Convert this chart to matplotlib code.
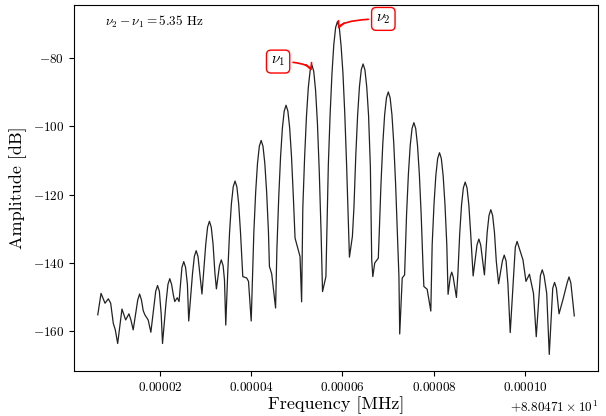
import matplotlib
matplotlib.use("Agg")
import matplotlib.pyplot as plt
import numpy as np

plt.rcParams['font.family'] = 'serif'
plt.rcParams['font.serif'] = ['cmr10', 'DejaVu Serif']
plt.rcParams['mathtext.fontset'] = 'cm'
plt.rcParams['axes.formatter.use_mathtext'] = True

f0_mhz = 88.0471
freq_offset_hz = [
    6.41, 7.13, 8.00, 8.72, 9.24, 9.81, 10.25, 10.77, 11.71, 12.52,
    13.24, 13.67, 14.17, 15.17, 15.57, 15.97, 16.37, 16.73, 17.45, 18.04,
    19.10, 19.50, 19.90, 20.30, 20.59, 21.38, 21.78, 22.18, 22.58, 22.98,
    23.27, 23.82, 24.21, 24.84, 25.24, 25.64, 26.04, 26.33, 27.16, 27.56,
    27.96, 28.36, 28.76, 29.23, 30.06, 30.46, 30.86, 31.26, 31.66, 32.06,
    32.39, 33.06, 33.46, 33.86, 34.16, 34.44, 34.87, 35.27, 35.67, 36.07,
    36.47, 36.87, 37.27, 37.67, 38.17, 39.02, 39.42, 40.01, 40.59, 40.99,
    41.39, 41.79, 42.19, 42.59, 42.99, 43.39, 43.79, 44.00, 44.50, 45.35,
    45.64, 46.04, 46.44, 46.84, 47.24, 47.64, 48.04, 48.44, 48.84, 49.24,
    49.61, 50.70, 51.05, 51.31, 51.71, 52.11, 52.51, 52.91, 53.31, 53.71,
    54.11, 54.51, 54.91, 55.31, 55.63, 56.37, 56.90, 57.30, 57.70, 58.10,
    58.50, 58.90, 59.30, 59.70, 60.10, 60.50, 60.90, 61.30, 61.52, 62.17,
    62.51, 62.91, 63.31, 63.71, 64.11, 64.51, 64.91, 65.31, 65.71, 66.11,
    66.40, 66.64, 67.06, 67.84, 68.03, 68.43, 68.83, 69.23, 69.63, 70.03,
    70.43, 70.83, 71.23, 71.63, 72.03, 72.36, 72.53, 73.08, 73.60, 74.03,
    74.43, 74.83, 75.23, 75.63, 76.03, 76.43, 76.83, 77.23, 77.63, 77.82,
    78.54, 79.34, 79.64, 80.04, 80.44, 80.84, 81.24, 81.64, 82.04, 82.44,
    82.84, 83.12, 83.62, 83.92, 84.22, 84.95, 85.27, 85.67, 86.07, 86.47,
    86.87, 87.27, 87.67, 88.07, 88.61, 89.46, 89.86, 90.26, 90.66, 91.08,
    91.68, 92.08, 92.48, 92.88, 93.28, 93.68, 94.18, 95.02, 95.42, 95.82,
    96.22, 96.73, 97.84, 98.24, 98.64, 99.52, 100.18, 100.94, 101.82, 102.43,
    103.34, 103.74, 104.14, 104.72, 105.28, 106.04, 106.44, 106.84, 107.42, 108.36,
    109.20, 109.60, 110.00, 110.76,
]
amplitude_db = [
    -155.2, -148.9, -151.8, -150.5, -151.8, -157.7, -159.6, -163.6, -153.5, -156.7,
    -154.9, -156.7, -159.6, -150.8, -149.1, -150.8, -154.0, -155.2, -156.7, -160.3,
    -148.3, -146.6, -148.3, -155.0, -163.6, -151.3, -146.3, -144.6, -146.3, -149.5,
    -151.3, -150.2, -151.3, -141.3, -139.6, -141.3, -146.3, -157.0, -143.1, -138.1,
    -136.4, -138.1, -143.1, -149.1, -134.5, -129.5, -127.8, -129.5, -134.5, -142.9,
    -147.6, -140.8, -139.1, -140.8, -145.0, -158.2, -142.9, -131.1, -122.7, -117.7,
    -116.0, -117.7, -122.7, -131.1, -144.0, -144.4, -145.4, -157.0, -131.0, -119.2,
    -110.8, -105.8, -104.1, -105.8, -110.8, -119.2, -131.0, -141.0, -143.2, -153.2,
    -135.8, -120.7, -108.9, -100.5, -95.5, -93.8, -95.5, -100.5, -108.9, -120.7,
    -132.7, -138.1, -151.4, -124.0, -108.9, -97.1, -88.7, -83.7, -82.0, -83.9,
    -89.5, -99.0, -113.0, -131.0, -148.4, -144.0, -111.3, -96.2, -84.4, -76.0,
    -71.0, -69.3, -71.0, -76.5, -84.4, -96.2, -111.3, -129.0, -138.3, -132.2,
    -123.7, -108.6, -96.8, -88.4, -83.4, -81.7, -83.4, -88.4, -96.8, -112.0,
    -139.1, -144.0, -140.0, -138.6, -131.9, -116.8, -105.0, -96.6, -91.6, -89.9,
    -91.6, -96.6, -105.0, -116.8, -131.9, -144.0, -160.8, -144.4, -143.5, -125.8,
    -114.0, -105.6, -100.6, -98.9, -100.6, -105.6, -114.0, -125.8, -140.9, -146.9,
    -147.7, -154.1, -134.6, -122.8, -114.4, -109.4, -107.7, -109.4, -114.4, -122.8,
    -134.6, -149.2, -144.0, -142.7, -144.0, -150.1, -143.2, -131.4, -123.0, -118.0,
    -116.3, -118.0, -123.0, -131.4, -143.8, -134.7, -133.0, -134.7, -139.0, -143.5,
    -131.1, -126.1, -124.4, -126.1, -131.1, -139.5, -146.1, -139.4, -137.7, -139.4,
    -146.0, -160.4, -135.4, -133.7, -135.4, -139.1, -145.4, -143.3, -148.9, -161.6,
    -143.7, -142.0, -143.7, -148.9, -166.8, -147.4, -145.7, -147.4, -154.9, -150.3,
    -145.8, -144.1, -145.8, -155.5,
]

nu1_hz, nu1_db = 53.31, -84.6
nu2_hz, nu2_db = 58.90, -72.3
nu1_text_hz, nu1_text_db = 45.90, -81.0
nu2_text_hz, nu2_text_db = 68.94, -68.5

freq = f0_mhz + np.array(freq_offset_hz) * 1e-6

fig = plt.figure(figsize=(6.06, 4.16), dpi=100)
ax = fig.add_axes([0.122, 0.108, 0.865, 0.880])
ax.plot(freq, amplitude_db, color='#222222', lw=0.9)
ax.ticklabel_format(axis='x', useOffset=f0_mhz)
ax.set_xlabel('Frequency [MHz]', fontsize=13, labelpad=2)
ax.set_ylabel('Amplitude [dB]', fontsize=13)
ax.tick_params(labelsize=9.5)
ax.xaxis.get_offset_text().set_fontsize(9.5)

ax.text(0.059, 0.955, r'$\nu_2 - \nu_1 = 5.35$ Hz', transform=ax.transAxes,
        fontsize=9.5, va='center', ha='left')

arrow = dict(arrowstyle='->', color='red', lw=1.2,
             connectionstyle='angle3,angleA=0,angleB=90')
box = dict(boxstyle='round,pad=0.3', fc='white', ec='red', lw=1)
ax.annotate(r'$\nu_1$', xy=(f0_mhz + nu1_hz * 1e-6, nu1_db),
            xytext=(f0_mhz + nu1_text_hz * 1e-6, nu1_text_db),
            fontsize=11, ha='center', va='center', bbox=box, arrowprops=arrow)
ax.annotate(r'$\nu_2$', xy=(f0_mhz + nu2_hz * 1e-6, nu2_db),
            xytext=(f0_mhz + nu2_text_hz * 1e-6, nu2_text_db),
            fontsize=11, ha='center', va='center', bbox=box, arrowprops=arrow)

fig.savefig('out.png', dpi=100)
